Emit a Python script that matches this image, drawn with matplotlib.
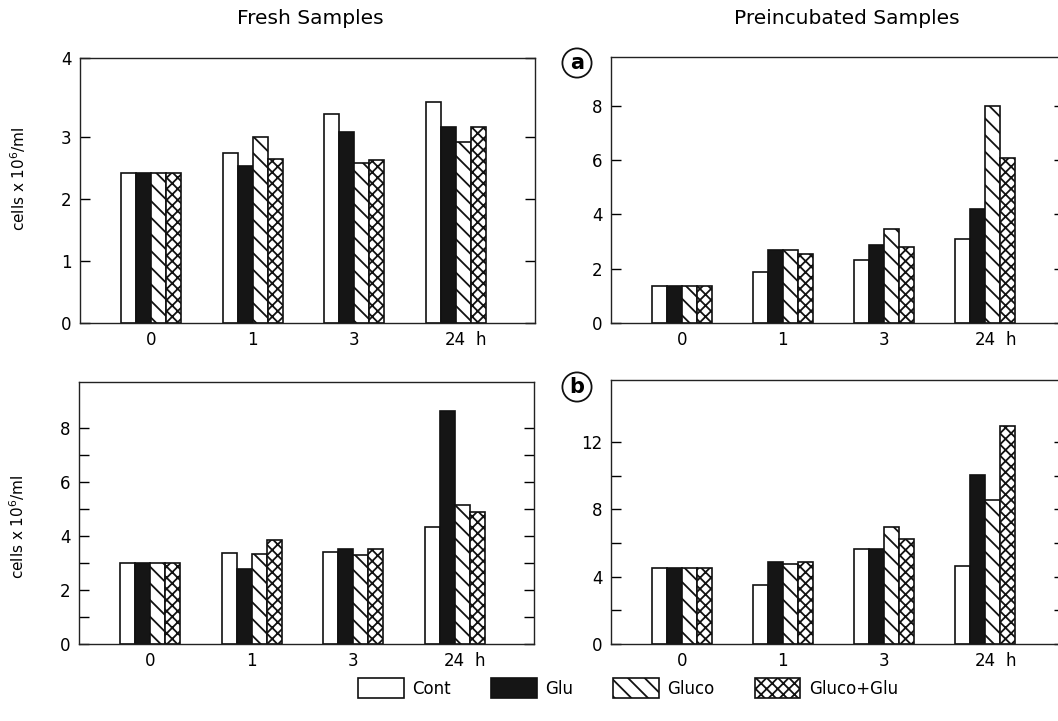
import numpy as np
import matplotlib
matplotlib.use('Agg')
import matplotlib.pyplot as plt
from matplotlib.transforms import ScaledTranslation

plt.rcParams['font.family'] = 'DejaVu Sans'
plt.rcParams['hatch.linewidth'] = 1.3
plt.rcParams['hatch.color'] = '#111111'

# Sample times and treatments
times = ['0', '1', '3', '24']
treatments = ['Cont', 'Glu', 'Gluco', 'Gluco+Glu']

# cells x 10^6/ml, one row per treatment (Cont, Glu, Gluco, Gluco+Glu)
fresh_a = [[2.43, 2.74, 3.38, 3.57],
           [2.43, 2.53, 3.08, 3.16],
           [2.43, 3.01, 2.59, 2.92],
           [2.43, 2.65, 2.63, 3.17]]
preinc_a = [[1.38, 1.86, 2.32, 3.08],
            [1.38, 2.67, 2.87, 4.18],
            [1.38, 2.67, 3.47, 7.98],
            [1.38, 2.53, 2.81, 6.06]]
fresh_b = [[3.02, 3.36, 3.41, 4.35],
           [3.02, 2.77, 3.53, 8.64],
           [3.02, 3.35, 3.32, 5.16],
           [3.02, 3.85, 3.54, 4.90]]
preinc_b = [[4.53, 3.50, 5.62, 4.63],
            [4.53, 4.89, 5.62, 10.04],
            [4.53, 4.75, 6.93, 8.59],
            [4.53, 4.89, 6.26, 12.97]]

faces = ['white', '#151515', 'white', 'white']
hatches = [None, None, '\\\\', 'xxx']

W, H = 1058, 721
fig = plt.figure(figsize=(W / 100, H / 100), dpi=100)


def px_axes(left, top, right, bottom):
    return fig.add_axes([left / W, 1 - bottom / H, (right - left) / W, (bottom - top) / H])


ax_tl = px_axes(80, 58, 535, 323)
ax_tr = px_axes(611, 57, 1064, 323)
ax_bl = px_axes(79, 382, 534, 644)
ax_br = px_axes(611, 380, 1064, 644)

x = np.arange(len(times))
w = 0.148


def draw(ax, data, ylim, major, minor, labels=None):
    bars = []
    for i, vals in enumerate(data):
        b = ax.bar(x + (i - 1.5) * w, vals, w, color=faces[i], edgecolor='#111111',
                   linewidth=1.2, hatch=hatches[i], label=treatments[i], zorder=2)
        bars.append(b)
    ax.set_xlim(-0.70, 3.78)
    ax.set_ylim(0, ylim)
    ax.set_xticks(x)
    ax.set_xticklabels(times, fontsize=12)
    ax.tick_params(axis='x', length=0, pad=6)
    ax.set_yticks(major)
    ax.set_yticklabels(labels if labels else [str(m) for m in major], fontsize=12)
    ax.set_yticks(minor, minor=True)
    ax.tick_params(axis='y', which='both', direction='in', left=True, right=True,
                   length=7, width=1, pad=6)
    for s in ax.spines.values():
        s.set_linewidth(1.0)
        s.set_color('#222222')
    # unit after the last time point
    off = ScaledTranslation(0, -6 / 72, fig.dpi_scale_trans)
    ax.text(3.25, 0, 'h', transform=ax.get_xaxis_transform() + off,
            ha='center', va='top', fontsize=12)
    return bars


handles = draw(ax_tl, fresh_a, 4.28, [0, 1, 2, 3, 4.28], [], ['0', '1', '2', '3', '4'])
draw(ax_tr, preinc_a, 9.79, [0, 2, 4, 6, 8], [])
draw(ax_bl, fresh_b, 9.72, [0, 2, 4, 6, 8], [1, 3, 5, 7])
draw(ax_br, preinc_b, 15.7, [0, 4, 8, 12], [2, 6, 10])

for ax, yc in [(ax_tl, 0.543), (ax_bl, 0.447)]:
    ax.set_ylabel('cells x 10$^6$/ml', fontsize=11)
    ax.yaxis.set_label_coords(-0.114, yc)

fig.text(310 / W, 1 - 18 / H, 'Fresh Samples', ha='center', va='center', fontsize=14.5)
fig.text(847 / W, 1 - 18 / H, 'Preincubated Samples', ha='center', va='center', fontsize=14.5)

for lab, yp in [('a', 63), ('b', 387)]:
    fig.text(577 / W, 1 - yp / H, lab, ha='center', va='center', fontsize=15,
             fontweight='bold',
             bbox=dict(boxstyle='circle,pad=0.22', fc='white', ec='#111111', lw=1.3))

fig.legend(handles=handles, loc='center', bbox_to_anchor=(628 / W, 1 - 688 / H),
           ncol=4, frameon=False, fontsize=12, handlelength=2.75, handleheight=1.5,
           columnspacing=2.4, handletextpad=0.5)

fig.savefig('out.png', dpi=100)
